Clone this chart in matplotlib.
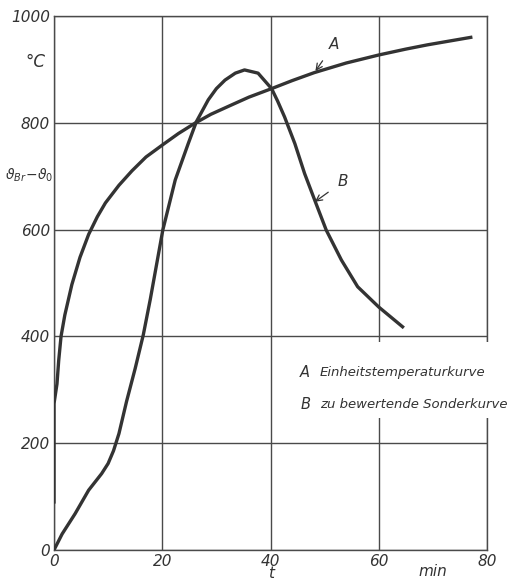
import matplotlib
matplotlib.use("Agg")
import matplotlib.pyplot as plt
from matplotlib.patches import Rectangle

# --- data ---
# curve A (Einheitstemperaturkurve)
t_a = [0, 0, 0.55, 0.87, 1.3, 2.0, 3.3, 4.8, 6.4, 8.0, 9.5, 12.0, 14.4, 17.0, 20.1, 23.0, 26.0, 29.0,
       32.7, 36.0, 40.2, 44.0, 48.1, 54.0, 60.0, 65.0, 69.0, 77.0]
temp_a = [90, 274, 311, 355, 400, 440, 497, 548, 591, 624, 650, 683, 710, 736, 759, 780, 799, 816,
          833, 848, 864, 879, 894, 912, 927, 938, 946, 960]

# curve B (zu bewertende Sonderkurve)
t_b = [0, 1.5, 3.9, 6.4, 8.8, 10.0, 11.0, 12.0, 13.4, 15.0, 16.5, 17.8, 20.1, 22.4, 24.8, 26.3, 28.5,
       30.0, 31.6, 33.5, 35.2, 37.7, 40.2, 41.3, 42.6, 44.5, 46.3, 48.4, 50.3, 53.1, 56.1, 60.0, 64.4]
temp_b = [0, 30, 68, 112, 143, 162, 186, 218, 278, 340, 403, 470, 599, 693, 761, 802, 843,
          864, 880, 893, 899, 893, 864, 841, 811, 761, 705, 649, 599, 543, 493, 455, 418]

x_ticks = [0, 20, 40, 60, 80]
y_ticks = [0, 200, 400, 600, 800, 1000]
legend_keys = ["A", "B"]
legend_texts = ["Einheitstemperaturkurve", "zu bewertende Sonderkurve"]

INK = "#333333"
GRID = "#4a4a4a"
FONT = dict(family="DejaVu Sans", style="italic")

fig = plt.figure(figsize=(5.15, 5.82), dpi=100)
ax = fig.add_axes([54 / 515, 1 - 550 / 582, 433 / 515, 534 / 582])

ax.set_xlim(0, 80)
ax.set_ylim(0, 1000)
ax.set_xticks(x_ticks)
ax.set_yticks(y_ticks)
ax.grid(True, color=GRID, linewidth=1.0)
ax.tick_params(length=0, pad=3, labelsize=11, labelcolor=INK)
for lab in ax.get_xticklabels() + ax.get_yticklabels():
    lab.set_fontstyle("italic")
for spine in ax.spines.values():
    spine.set_color(GRID)
    spine.set_linewidth(1.0)

ax.plot(t_a, temp_a, color=INK, linewidth=2.4, solid_joinstyle="round", zorder=3)
ax.plot(t_b, temp_b, color=INK, linewidth=2.4, solid_joinstyle="round", zorder=3)

# curve labels with small leader arrows
ax.annotate("A", xy=(48.3, 897), xytext=(51.7, 946), fontsize=11, color=INK, ha="center", va="center",
            arrowprops=dict(arrowstyle="->", color=INK, lw=0.9, shrinkA=5, shrinkB=0), **FONT)
ax.annotate("B", xy=(48.2, 652), xytext=(53.4, 690), fontsize=11, color=INK, ha="center", va="center",
            arrowprops=dict(arrowstyle="->", color=INK, lw=0.9, shrinkA=6, shrinkB=0), **FONT)

# legend block: white patch hides the grid behind the two lines
ax.add_patch(Rectangle((44.0, 247), 43.0, 143, facecolor="white", edgecolor="none",
                       clip_on=False, zorder=4))
for row, (key, txt) in enumerate(zip(legend_keys, legend_texts)):
    y = 333 - 60 * row
    ax.text(46.4, y, key, fontsize=10.5, color=INK, ha="center", va="center", zorder=5, **FONT)
    ax.text(49.1, y, txt, fontsize=9.5, color=INK, ha="left", va="center", zorder=5,
            clip_on=False, **FONT)

# axis annotations
fig.text(35 / 515, 1 - 62 / 582, "°C", fontsize=12, color=INK, ha="center", va="center", **FONT)
fig.text(29 / 515, 1 - 175 / 582, r"$\vartheta_{Br}\!-\!\vartheta_{0}$", fontsize=10, color=INK,
         ha="center", va="center")
fig.text(271 / 515, 1 - 581 / 582, "t", fontsize=11, color=INK, ha="center", va="bottom", **FONT)
fig.text(433 / 515, 1 - 572 / 582, "min", fontsize=11, color=INK, ha="center", va="center", **FONT)

fig.savefig("out.png", dpi=100, facecolor="white")
